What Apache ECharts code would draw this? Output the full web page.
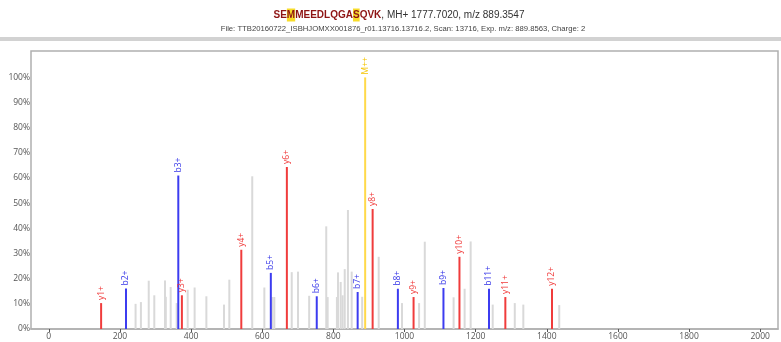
<!DOCTYPE html>
<html>
<head>
<meta charset="utf-8">
<script src="https://cdn.jsdelivr.net/npm/echarts@6/dist/echarts.min.js"></script>
<style>
  html, body { margin: 0; padding: 0; background: #fff; }
  #chart { width: 781px; height: 342px; }
</style>
</head>
<body>
<div id="chart"></div>
<script>
// Annotated fragment ions (m/z, relative intensity %, ion series)
const ionLabels = ['y1+', 'b2+', 'b3+', 'y3+', 'y4+', 'b5+', 'y6+', 'b6+', 'b7+', 'M++', 'y8+', 'b8+', 'y9+', 'b9+', 'y10+', 'b11+', 'y11+', 'y12+'];
const ionMz = [147.1, 217.1, 364.1, 374.2, 541.2, 624.2, 669.3, 753.3, 868.3, 889.4, 910.4, 981.4, 1025.5, 1109.5, 1154.5, 1237.6, 1283.5, 1414.6];
const ionIntensity = [10.3, 16.1, 61, 13.4, 31.5, 22.3, 64.4, 13, 14.7, 100, 47.7, 16, 12.7, 16.3, 28.7, 16, 12.7, 16];
const ionType = ['y', 'b', 'b', 'y', 'y', 'b', 'y', 'b', 'b', 'M', 'y', 'b', 'y', 'b', 'y', 'b', 'y', 'y'];

// Unassigned peaks
const otherMz = [244, 259, 281, 296.6, 326.7, 329, 342.7, 359.6, 390.5, 410, 443, 492.6, 507.5, 572, 606, 628.5, 634, 683, 700.6, 732, 780, 784, 810, 813, 820.6, 826, 832, 841, 851.5, 881, 927.5, 993, 1041, 1057, 1138, 1169, 1186, 1248, 1310, 1334, 1435];
const otherIntensity = [10, 10.7, 19.2, 13.4, 19.3, 12.8, 16.7, 10.3, 15.6, 16.5, 13, 9.7, 19.6, 60.7, 16.5, 12.7, 12.7, 22.6, 22.8, 13.2, 40.8, 12.7, 12.7, 22.5, 18.7, 13.4, 23.8, 47.3, 22.8, 12.8, 28.7, 10.3, 10.3, 34.7, 12.6, 16, 34.8, 9.7, 10.3, 9.7, 9.5];

// X axis tick labels
const mzTicks = [0, 200, 400, 600, 800, 1000, 1200, 1400, 1600, 1800, 2000];

const typeColor = { b: '#3c3cf0', y: '#f03c3c', M: '#ffd94a' };
const labelColor = { b: '#3535e8', y: '#f03a3a', M: '#f5c400' };

const data = [];
otherMz.forEach((mz, i) => {
  data.push({ value: [mz, otherIntensity[i]], itemStyle: { color: '#d9d9d9' }, label: { show: false } });
});
ionMz.forEach((mz, i) => {
  const t = ionType[i];
  data.push({
    value: [mz, ionIntensity[i]],
    itemStyle: { color: typeColor[t] },
    label: { show: true, formatter: ionLabels[i], color: labelColor[t] }
  });
});

const chart = echarts.init(document.getElementById('chart'), null, { renderer: 'canvas' });
chart.setOption({
  animation: false,
  backgroundColor: '#fff',
  grid: { left: 31, right: 3, top: 51, bottom: 13, show: true, borderColor: '#b0b0b0', borderWidth: 1.5, backgroundColor: 'transparent' },
  graphic: [
    { type: 'rect', left: 0, top: 37, shape: { width: 781, height: 4 }, style: { fill: '#d2d2d2' }, silent: true },
    {
      type: 'text', x: 399, y: 15,
      style: {
        text: '{r|SE}{h|M}{r|MEEDLQGA}{h|S}{r|QVK}{n|, MH+ 1777.7020, m/z 889.3547}',
        align: 'center', verticalAlign: 'middle',
        rich: {
          r: { fontFamily: 'Liberation Sans', fontSize: 10, fontWeight: 'bold', fill: '#8e1414' },
          h: { fontFamily: 'Liberation Sans', fontSize: 10, fontWeight: 'bold', fill: '#8e1414', backgroundColor: '#f7dc2a', padding: [2, 0, 1, 0] },
          n: { fontFamily: 'Liberation Sans', fontSize: 10, fill: '#333' }
        }
      }
    },
    {
      type: 'text', x: 403, y: 29,
      style: {
        text: 'File: TTB20160722_ISBHJOMXX001876_r01.13716.13716.2, Scan: 13716, Exp. m/z: 889.8563, Charge: 2',
        align: 'center', verticalAlign: 'middle',
        fontFamily: 'Liberation Sans', fontSize: 7.7, fill: '#444'
      }
    }
  ],
  xAxis: {
    type: 'value', min: -50, max: 2050,
    splitLine: { show: false },
    axisLine: { show: true, onZero: false, lineStyle: { color: '#b0b0b0', width: 1.5 } },
    axisTick: { show: true, length: 3, customValues: mzTicks, lineStyle: { color: '#555' } },
    axisLabel: { customValues: mzTicks, color: '#555', fontSize: 8.5, fontFamily: 'Open Sans', margin: 3, formatter: v => String(v) }
  },
  yAxis: {
    type: 'value', min: 0, max: 110.5, interval: 10,
    splitLine: { show: false },
    axisLine: { show: false },
    axisTick: { show: false },
    axisLabel: {
      color: '#555', fontSize: 8.5, fontFamily: 'Open Sans', margin: 1,
      formatter: v => (v <= 100 ? v + '%' : '')
    }
  },
  series: [{
    type: 'bar',
    barWidth: 2,
    data: data,
    label: {
      position: 'top', rotate: 90, align: 'left', verticalAlign: 'middle', distance: 3,
      fontSize: 8.5, fontFamily: 'Open Sans'
    }
  }]
});
</script>
</body>
</html>
